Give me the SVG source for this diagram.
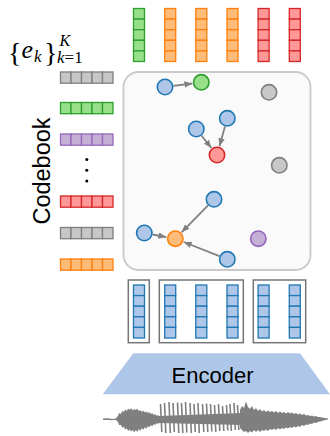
<svg xmlns="http://www.w3.org/2000/svg" xmlns:xlink="http://www.w3.org/1999/xlink" width="330" height="436" viewBox="0 0 330 436">
<style>
.blue{fill:#aec7e8;stroke:#1f77b4}
.green{fill:#98df8a;stroke:#2ca02c}
.orange{fill:#ffbb78;stroke:#ff7f0e}
.red{fill:#ff9896;stroke:#d62728}
.gray{fill:#c7c7c7;stroke:#7f7f7f}
.purple{fill:#c5b0d5;stroke:#9467bd}
.node circle{stroke-width:1.6}
.cells{stroke-width:1.3}
.edge{stroke:#808080;stroke-width:1.8;fill:none;marker-end:url(#arr)}
.grp{fill:none;stroke:#767676;stroke-width:1.5}
.wave{fill:#7f7f7f}
.stripe{stroke:#7f7f7f;stroke-width:1.6;fill:none}
</style>
<defs>
<g id="col">
<rect x="0" y="0" width="11" height="10.6"/>
<rect x="0" y="10.6" width="11" height="10.6"/>
<rect x="0" y="21.2" width="11" height="10.6"/>
<rect x="0" y="31.8" width="11" height="10.6"/>
<rect x="0" y="42.4" width="11" height="10.6"/>
</g>
<g id="row">
<rect x="0" y="0" width="10.5" height="11.2"/>
<rect x="10.5" y="0" width="10.5" height="11.2"/>
<rect x="21" y="0" width="10.5" height="11.2"/>
<rect x="31.5" y="0" width="10.5" height="11.2"/>
<rect x="42" y="0" width="10.5" height="11.2"/>
</g>
<marker id="arr" markerUnits="userSpaceOnUse" markerWidth="8" markerHeight="6.4" viewBox="0 0 10 8" refX="10" refY="4" orient="auto">
<path d="M0,0 L10,4 L0,8 z" fill="#808080"/>
</marker>
</defs>

<!-- label -->
<g id="label" font-family="'Liberation Serif', serif" fill="#000">
<text x="8" y="62" font-size="28">{</text>
<text x="21.5" y="57.5" font-size="26" font-style="italic">e</text>
<text x="34" y="61.5" font-size="17" font-style="italic">k</text>
<text x="44" y="62" font-size="28">}</text>
<text x="59.5" y="46" font-size="16" font-style="italic">K</text>
<text x="57" y="63" font-size="17"><tspan font-style="italic">k</tspan>=1</text>
</g>

<!-- top quantized columns -->
<g id="quantized" class="cells">
<use xlink:href="#col" class="green" x="133.5" y="8.5"/>
<use xlink:href="#col" class="orange" x="164.7" y="8.5"/>
<use xlink:href="#col" class="orange" x="195.8" y="8.5"/>
<use xlink:href="#col" class="orange" x="227" y="8.5"/>
<use xlink:href="#col" class="red" x="258.1" y="8.5"/>
<use xlink:href="#col" class="red" x="289.3" y="8.5"/>
</g>

<!-- codebook -->
<g id="codebook">
<text transform="translate(50,171) rotate(-90)" text-anchor="middle" font-family="'Liberation Sans', Arial, sans-serif" font-size="23.5" fill="#000">Codebook</text>
<g class="cells">
<use xlink:href="#row" class="gray" x="60.5" y="72"/>
<use xlink:href="#row" class="green" x="60.5" y="102.5"/>
<use xlink:href="#row" class="purple" x="60.5" y="134"/>
<use xlink:href="#row" class="red" x="60.5" y="196"/>
<use xlink:href="#row" class="gray" x="60.5" y="227.5"/>
<use xlink:href="#row" class="orange" x="60.5" y="259"/>
</g>
<circle cx="86.8" cy="159.5" r="1.5" fill="#000"/>
<circle cx="86.8" cy="170.3" r="1.5" fill="#000"/>
<circle cx="86.8" cy="181" r="1.5" fill="#000"/>
</g>

<!-- latent space box -->
<rect id="space" x="123.5" y="72" width="187" height="198" rx="15" fill="#fafafa" stroke="#c9c9c9" stroke-width="1.8"/>

<g id="connectors">
<line class="edge" x1="173.4" y1="85.9" x2="192.4" y2="83.5"/>
<line class="edge" x1="201.6" y1="135.7" x2="211.4" y2="148"/>
<line class="edge" x1="225" y1="126.5" x2="219.4" y2="146.3"/>
<line class="edge" x1="208" y1="205.4" x2="181.6" y2="232.3"/>
<line class="edge" x1="152.7" y1="234.5" x2="166.4" y2="237.1"/>
<line class="edge" x1="219.4" y1="256.2" x2="183.7" y2="242"/>
</g>

<g id="n_b1" class="node"><circle class="blue" cx="165" cy="87" r="7.7"/></g>
<g id="n_green" class="node"><circle class="green" cx="201.3" cy="82.3" r="7.7"/></g>
<g id="n_gray1" class="node"><circle class="gray" cx="269" cy="92.3" r="7.7"/></g>
<g id="n_b2" class="node"><circle class="blue" cx="196.3" cy="129" r="7.7"/></g>
<g id="n_b3" class="node"><circle class="blue" cx="227.3" cy="118.3" r="7.7"/></g>
<g id="n_red" class="node"><circle class="red" cx="217" cy="155" r="7.7"/></g>
<g id="n_gray2" class="node"><circle class="gray" cx="279.3" cy="165.3" r="7.7"/></g>
<g id="n_b4" class="node"><circle class="blue" cx="214" cy="199.3" r="7.7"/></g>
<g id="n_b5" class="node"><circle class="blue" cx="144.3" cy="233" r="7.7"/></g>
<g id="n_orange" class="node"><circle class="orange" cx="175.3" cy="238.7" r="7.7"/></g>
<g id="n_purple" class="node"><circle class="purple" cx="258.3" cy="238.7" r="7.7"/></g>
<g id="n_b6" class="node"><circle class="blue" cx="227.3" cy="259.3" r="7.7"/></g>

<!-- encoder outputs -->
<g id="encoded">
<rect class="grp" x="128.3" y="280" width="21" height="62.7"/>
<rect class="grp" x="159.3" y="280" width="84" height="62.7"/>
<rect class="grp" x="253.3" y="280" width="52.4" height="62.7"/>
<g class="cells">
<use xlink:href="#col" class="blue" x="133.5" y="285"/>
<use xlink:href="#col" class="blue" x="164.7" y="285"/>
<use xlink:href="#col" class="blue" x="195.8" y="285"/>
<use xlink:href="#col" class="blue" x="227" y="285"/>
<use xlink:href="#col" class="blue" x="258.1" y="285"/>
<use xlink:href="#col" class="blue" x="289.3" y="285"/>
</g>
</g>

<!-- encoder -->
<g id="encoder">
<polygon points="133.3,353.3 300,353.3 330,394.3 102.7,394.3" fill="#aec7e8"/>
<text x="212.5" y="382.5" text-anchor="middle" font-family="'Liberation Sans', Arial, sans-serif" font-size="22" fill="#000">Encoder</text>
</g>

<!-- waveform -->
<g id="waveform">
<path d="M103,419.3 L108,419 L112,419.6 L116,419.1 L118,419.3" stroke="#7f7f7f" stroke-width="1.4" fill="none"/>
<polygon class="wave" points="116,418 118,416 119,413 121,414 122,411 124,412 125,409.5 127,411 128,408.5 130,410 131,408 133,410.5 134,409 136,410 137,408.5 139,411 140,410 142,412 143,410.5 145,412.5 146,411.5 148,413 149,412 151,414 152,413 154,415 155,414 157,416 158,415 160,417 160,422 158,424 157,423 155,425 154,424 152,426.5 151,425 149,427.5 148,426 146,429 145,427 143,430 142,428 140,431 139,429 137,432 136,430 134,432.5 133,430 131,431.5 130,429.5 128,431 127,428.5 125,429.5 124,427 122,427.5 121,425 119,425 118,422 116,420"/>
<polygon class="wave" points="159,416 242,413 242,425 159,423"/>
<path class="stripe" d="M160.5,404 L161.8,432 M164.5,403 L165.8,433 M169,402 L170.3,433 M173,403 L174.3,432 M177.5,402.5 L178.8,433 M181.5,403 L182.8,433 M185.5,402 L186.8,432.5 M190,403 L191.3,433 M194,404 L195.3,432 M198,403 L199.3,433 M202.5,404 L203.8,432 M206.5,403.5 L207.8,432 M210.5,404 L211.8,431.5 M214.5,405 L215.8,432 M218.5,404 L219.8,431 M222.5,406 L223.8,431 M226.5,405 L227.8,430.5 M230,404 L231.3,431 M234,403 L235.3,430 M237.5,405 L238.8,430"/>
<polygon class="wave" points="240,410 242,406 244,408 246,401.5 248,407 250,409 252,406 254,410 256,408 258,411 260,409 262,411.5 264,410 266,412 268,410.5 270,412 272,411 274,412.5 276,411 278,413 280,411.5 282,413 284,412 286,413.5 288,412 290,413.5 292,412.5 294,414 296,413 298,414.5 300,413.5 302,415 304,414 306,415.5 308,415 310,416 312,415.5 314,416.5 316,416 318,417 320,417 322,417.5 325,418 328,418.5 328,419.5 325,420 322,421 320,421.5 318,422 316,423 314,422.5 312,424 310,423.5 308,425 306,424.5 304,426 302,425 300,427 298,426 296,427.5 294,426.5 292,428 290,427 288,428.5 286,427.5 284,429 282,428 280,429.5 278,428 276,430 274,428.5 272,430 270,429 268,431 266,429.5 264,431 262,430 260,432 258,430 256,432 254,430 252,432.5 250,431 248,433 246,431 244,432 242,430 240,428"/>
</g>
</svg>
